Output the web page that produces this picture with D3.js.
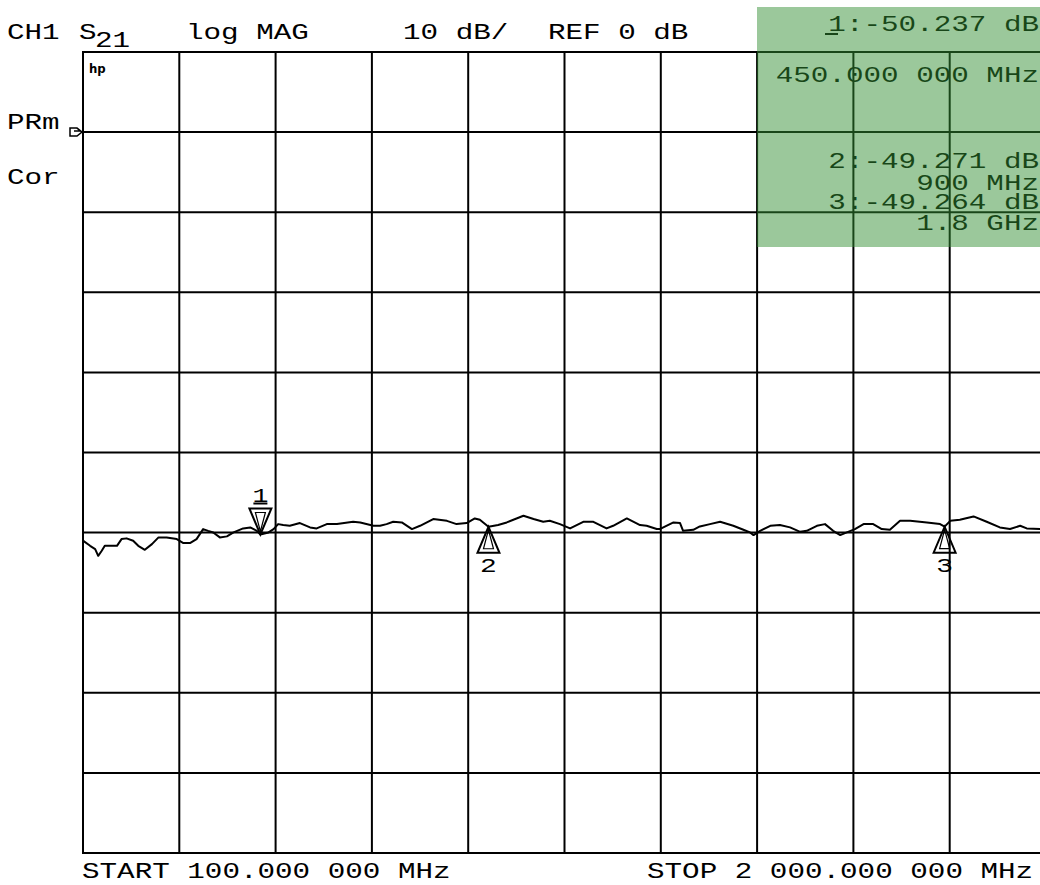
<!DOCTYPE html>
<html>
<head>
<meta charset="utf-8">
<script src="https://cdn.jsdelivr.net/npm/d3@7"></script>
<style>
  html, body { margin: 0; padding: 0; background: #ffffff; }
  svg { display: block; }
</style>
</head>
<body>
<script>
// ---------- data ----------
const startMHz = 100;
const stopMHz = 2000;
const refDb = 0;          // REF 0 dB
const dbPerDiv = 10;      // 10 dB/
const freqMHz = [100,114,124,130,137,143,167,176,186,199,209,222,236,249,265,285,298,311,324,337,347,357,370,384,397,416,430,443,450,466,476,485,495,508,528,548,561,581,601,633,647,673,686,699,712,729,749,765,791,818,837,857,873,883,900,919,936,969,989,1008,1021,1041,1061,1087,1107,1133,1146,1173,1199,1212,1232,1238,1265,1278,1284,1304,1317,1337,1357,1383,1403,1416,1423,1436,1456,1475,1495,1515,1528,1548,1564,1580,1594,1607,1623,1640,1659,1676,1692,1712,1732,1765,1791,1800,1811,1830,1857,1883,1909,1929,1949,1962,1988,2000];
const s21Db = [-51.0,-51.65,-52.06,-52.9,-52.27,-51.65,-51.65,-50.81,-50.72,-51.02,-51.65,-52.15,-51.44,-50.6,-50.6,-50.81,-51.31,-51.31,-50.81,-49.56,-49.78,-49.98,-50.6,-50.47,-49.98,-49.48,-49.35,-49.78,-50.24,-49.98,-49.56,-48.94,-49.06,-49.15,-48.81,-49.35,-49.48,-48.94,-48.94,-48.65,-48.73,-49.15,-49.15,-48.94,-48.65,-48.73,-49.56,-49.15,-48.31,-48.53,-48.94,-48.81,-48.23,-48.4,-49.27,-49.06,-48.73,-47.9,-48.31,-48.65,-48.53,-48.94,-49.48,-48.65,-48.65,-49.48,-49.15,-48.23,-49.06,-49.15,-49.56,-49.56,-48.73,-48.81,-49.78,-49.65,-49.23,-48.94,-48.65,-49.15,-49.65,-49.98,-50.31,-49.78,-49.15,-49.06,-49.35,-49.9,-49.78,-49.15,-48.94,-49.78,-50.31,-49.98,-49.56,-48.94,-48.94,-49.56,-49.65,-48.53,-48.53,-48.73,-48.94,-49.26,-48.53,-48.4,-47.98,-48.65,-49.35,-49.56,-49.15,-49.48,-49.56,-49.6];
const markerIds = ["1","2","3"];
const markerMHz = [450, 900, 1800];
const markerDb = [-50.237, -49.271, -49.264];
const markerFreqText = ["450.000 000 MHz", "900 MHz", "1.8 GHz"];
const markerDbText = ["1:-50.237 dB", "2:-49.271 dB", "3:-49.264 dB"];
const headerLeft = ["CH1", "log MAG"];
const headerScale = "10 dB/";
const headerRef = "REF 0 dB";
const sideLabels = ["PRm", "Cor"];
const startText = "START  100.000 000 MHz";
const stopText = "STOP 2 000.000 000 MHz";

// ---------- layout ----------
const W = 1040, H = 885;
const plot = { left: 83, top: 52, right: 1046, bottom: 853 };
const nDivX = 10, nDivY = 10;

const svg = d3.select("body").append("svg").attr("width", W).attr("height", H);

const x = d3.scaleLinear().domain([startMHz, stopMHz]).range([plot.left, plot.right]);
const topDb = refDb + dbPerDiv;                 // reference line is one division below top
const bottomDb = topDb - dbPerDiv * nDivY;
const y = d3.scaleLinear().domain([topDb, bottomDb]).range([plot.top, plot.bottom]);

const FONT = "'Liberation Mono', 'DejaVu Sans Mono', monospace";
const SX = 1.33;
function hpText(g, str, px, py, anchor, size) {
  return g.append("text")
    .attr("transform", `translate(${px},${py}) scale(${SX},1)`)
    .attr("text-anchor", anchor || "start")
    .attr("font-family", FONT)
    .attr("font-size", size || 22)
    .attr("fill", "#000")
    .text(str);
}

// ---------- grid ----------
const grid = svg.append("g").attr("stroke", "#000").attr("stroke-width", 2);
const xTicks = d3.range(nDivX + 1).map(i => startMHz + i * (stopMHz - startMHz) / nDivX);
const yTicks = d3.range(nDivY + 1).map(i => topDb - i * dbPerDiv);
grid.selectAll("line.v").data(xTicks).join("line")
  .attr("x1", d => x(d)).attr("x2", d => x(d))
  .attr("y1", plot.top).attr("y2", plot.bottom);
grid.selectAll("line.h").data(yTicks).join("line")
  .attr("x1", plot.left - 1).attr("x2", plot.right)
  .attr("y1", d => y(d)).attr("y2", d => y(d));

// ---------- trace ----------
const pts = freqMHz.map((f, i) => [f, s21Db[i]]);
svg.append("path")
  .datum(pts)
  .attr("fill", "none")
  .attr("stroke", "#000")
  .attr("stroke-width", 2)
  .attr("stroke-linejoin", "round")
  .attr("d", d3.line().x(d => x(d[0])).y(d => y(d[1])));

// ---------- markers ----------
const mk = svg.append("g");
markerMHz.forEach((f, i) => {
  const mx = x(f), my = y(markerDb[i]);
  const w = 11, h = 26;
  if (i === 0) {
    // downward triangle above the trace
    mk.append("path")
      .attr("d", `M${mx - w},${my - h} L${mx + w},${my - h} L${mx},${my} Z`)
      .attr("fill", "none").attr("stroke", "#000").attr("stroke-width", 2);
    mk.append("path")
      .attr("d", `M${mx - 5},${my - h + 4} L${mx + 5},${my - h + 4} L${mx},${my - 3} Z`)
      .attr("fill", "none").attr("stroke", "#000").attr("stroke-width", 1.2);
    hpText(mk, markerIds[i], mx, my - h - 6, "middle", 20);
    mk.append("line").attr("x1", mx - 7).attr("x2", mx + 7)
      .attr("y1", my - h - 5).attr("y2", my - h - 5)
      .attr("stroke", "#000").attr("stroke-width", 2);
  } else {
    // upward triangle below the trace
    mk.append("path")
      .attr("d", `M${mx - w},${my + h} L${mx + w},${my + h} L${mx},${my} Z`)
      .attr("fill", "none").attr("stroke", "#000").attr("stroke-width", 2);
    mk.append("path")
      .attr("d", `M${mx - 5},${my + h - 4} L${mx + 5},${my + h - 4} L${mx},${my + 3} Z`)
      .attr("fill", "none").attr("stroke", "#000").attr("stroke-width", 1.2);
    hpText(mk, markerIds[i], mx, my + h + 19, "middle", 21);
  }
});

// ---------- annotations ----------
const t = svg.append("g");
hpText(t, headerLeft[0], 7, 39);
hpText(t, "S", 79, 39);
hpText(t, "21", 95, 47);
hpText(t, headerLeft[1], 186, 39);
hpText(t, headerScale, 403, 39);
hpText(t, headerRef, 548, 39);
hpText(t, sideLabels[0], 7, 129);
hpText(t, sideLabels[1], 7, 184);
hpText(t, startText, 82, 878);
hpText(t, stopText, 647, 878);

// hp logo
t.append("text").attr("x", 89).attr("y", 73)
  .attr("font-family", "'DejaVu Sans Condensed', 'DejaVu Sans', sans-serif")
  .attr("font-weight", "bold").attr("font-size", 13).text("hp");

// reference position indicator
t.append("path")
  .attr("d", `M70,${y(refDb) - 4} L77,${y(refDb) - 4} L82,${y(refDb)} L77,${y(refDb) + 4} L70,${y(refDb) + 4} Z M74,${y(refDb) - 1} L80,${y(refDb) - 1}`)
  .attr("fill", "none").attr("stroke", "#000").attr("stroke-width", 1.5);

// marker readout
const rx = 1039;
hpText(t, markerDbText[0], rx, 31, "end");
t.append("line").attr("x1", 825).attr("x2", 838).attr("y1", 34).attr("y2", 34)
  .attr("stroke", "#000").attr("stroke-width", 2);
hpText(t, markerFreqText[0], rx, 82, "end");
hpText(t, markerDbText[1], rx, 168, "end");
hpText(t, markerFreqText[1], rx, 190, "end");
hpText(t, markerDbText[2], rx, 209, "end");
hpText(t, markerFreqText[2], rx, 230, "end");

// translucent green readout panel on top
svg.append("rect")
  .attr("x", 757).attr("y", 7).attr("width", W - 757).attr("height", 240)
  .attr("fill", "rgb(51,143,51)").attr("fill-opacity", 0.49);
</script>
</body>
</html>
